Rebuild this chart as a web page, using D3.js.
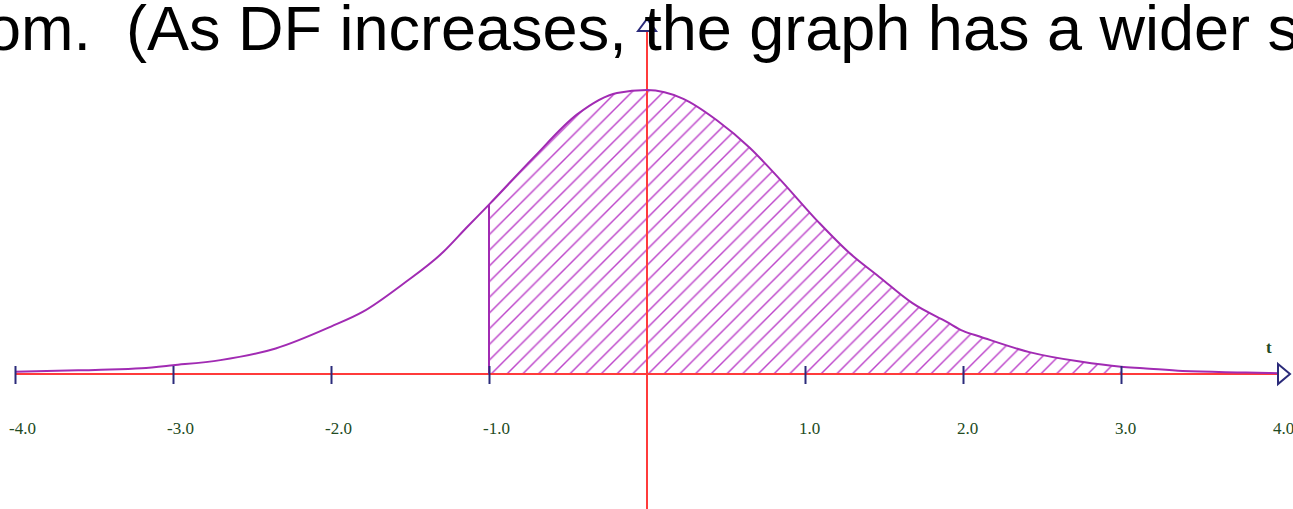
<!DOCTYPE html>
<html>
<head>
<meta charset="utf-8">
<script src="https://cdn.jsdelivr.net/npm/d3@7"></script>
<style>
  html, body { margin: 0; padding: 0; background: #fff; }
  svg { display: block; }
</style>
</head>
<body>
<div id="chart"></div>
<script>
// Caption line cut off at the top of the slide
const captionText = 'om.  (As DF increases, the graph has a wider s';

// Density curve (t, density)
const curveT = [-4.0, -3.6, -3.4, -3.2, -3.0, -2.7, -2.35, -2.0, -1.8, -1.54, -1.29, -1.14, -1.0,
    -0.72, -0.44, -0.19, 0.0, 0.23, 0.44, 0.65, 0.84, 1.09, 1.28, 1.47, 1.68, 1.9, 2.0, 2.11,
    2.42, 2.74, 3.0, 3.14, 3.39, 3.79, 4.0];
const curveDensity = [0.003, 0.005, 0.006, 0.008, 0.012, 0.019, 0.035, 0.065, 0.085, 0.124, 0.167, 0.201, 0.232,
    0.296, 0.356, 0.385, 0.389, 0.377, 0.348, 0.310, 0.267, 0.207, 0.166, 0.133, 0.097, 0.071, 0.059, 0.051,
    0.030, 0.017, 0.010, 0.008, 0.004, 0.002, 0.001];

// Shaded interval
const shadeFrom = -1.0;
const shadeTo = 3.0;

// Axis ticks
const tickMarks = [-4, -3, -2, -1, 1, 2, 3];
const tickLabels = [-4, -3, -2, -1, 1, 2, 3, 4];

const width = 1293;
const height = 509;
const CURVE_COLOR = '#a12bb3';
const HATCH_COLOR = '#bd45ca';
const AXIS_COLOR = '#ff3b3b';
const TICK_COLOR = '#2b2b7a';
const LABEL_COLOR = '#224a22';

const svg = d3.select('#chart')
    .append('svg')
    .attr('width', width)
    .attr('height', height);

const xScale = d3.scaleLinear()
    .domain([-4, 4])
    .range([15, 1279]);

const yScale = d3.scaleLinear()
    .domain([0, 0.5])
    .range([374, 9]);

const points = curveT.map((t, i) => [t, curveDensity[i]]);

// Hatch pattern
const defs = svg.append('defs');
const pattern = defs.append('pattern')
    .attr('id', 'hatch')
    .attr('patternUnits', 'userSpaceOnUse')
    .attr('x', 1.7)
    .attr('width', 15.7)
    .attr('height', 15.7);
pattern.append('path')
    .attr('d', 'M-1,1 l2,-2 M0,15.7 l15.7,-15.7 M14.7,16.7 l2,-2')
    .style('stroke', HATCH_COLOR)
    .style('stroke-width', 1.4)
    .style('fill', 'none');

// Shaded area
const area = d3.area()
    .x(d => xScale(d[0]))
    .y0(yScale(0))
    .y1(d => yScale(d[1]))
    .curve(d3.curveMonotoneX);

svg.append('path')
    .datum(points.filter(d => d[0] >= shadeFrom && d[0] <= shadeTo))
    .attr('d', area)
    .style('fill', 'url(#hatch)');

// Horizontal axis line
svg.append('line')
    .attr('x1', xScale(-4))
    .attr('x2', xScale(4))
    .attr('y1', yScale(0))
    .attr('y2', yScale(0))
    .style('stroke', AXIS_COLOR)
    .style('stroke-width', 2);

// Vertical axis line
svg.append('line')
    .attr('x1', xScale(0))
    .attr('x2', xScale(0))
    .attr('y1', 31)
    .attr('y2', height)
    .style('stroke', AXIS_COLOR)
    .style('stroke-width', 2);

// Curve
const line = d3.line()
    .x(d => xScale(d[0]))
    .y(d => yScale(d[1]))
    .curve(d3.curveMonotoneX);

svg.append('path')
    .datum(points)
    .attr('d', line)
    .style('fill', 'none')
    .style('stroke', CURVE_COLOR)
    .style('stroke-width', 2);

// Left edge of the shaded interval
const leftIdx = curveT.indexOf(shadeFrom);
svg.append('line')
    .attr('x1', xScale(shadeFrom))
    .attr('x2', xScale(shadeFrom))
    .attr('y1', yScale(0))
    .attr('y2', yScale(curveDensity[leftIdx]))
    .style('stroke', CURVE_COLOR)
    .style('stroke-width', 2);

// Tick marks
const axisG = svg.append('g')
    .attr('transform', `translate(0,${yScale(0)})`);

axisG.call(d3.axisBottom(xScale)
        .tickValues(tickMarks)
        .tickSize(0)
        .tickFormat(''))
    .call(g => g.select('.domain').remove());

axisG.selectAll('.tick line')
    .attr('y1', -8)
    .attr('y2', 10)
    .style('stroke', TICK_COLOR)
    .style('stroke-width', 2);

// Tick labels
svg.append('g')
    .selectAll('text')
    .data(tickLabels)
    .join('text')
    .attr('x', d => xScale(d) - 6)
    .attr('y', 434)
    .attr('text-anchor', 'start')
    .style('font-family', '"Liberation Serif", serif')
    .style('font-size', '17px')
    .style('fill', LABEL_COLOR)
    .text(d => d.toFixed(1));

// Arrowheads
svg.append('path')
    .attr('d', `M${xScale(4) - 1},${yScale(0) - 10} L${xScale(4) + 11},${yScale(0)} L${xScale(4) - 1},${yScale(0) + 10} Z`)
    .style('fill', '#fff')
    .style('stroke', TICK_COLOR)
    .style('stroke-width', 2);

svg.append('path')
    .attr('d', `M${xScale(0) - 9},31 L${xScale(0)},19 L${xScale(0) + 9},31 Z`)
    .style('fill', '#fff')
    .style('stroke', TICK_COLOR)
    .style('stroke-width', 2);

// Axis name
svg.append('text')
    .attr('x', 1266)
    .attr('y', 353)
    .style('font-family', '"Liberation Serif", serif')
    .style('font-size', '17px')
    .style('font-weight', 'bold')
    .style('fill', LABEL_COLOR)
    .text('t');

// Caption
svg.append('text')
    .attr('x', -14)
    .attr('y', 50)
    .style('font-family', '"Liberation Sans", Arial, sans-serif')
    .style('font-size', '63px')
    .style('fill', '#000')
    .style('white-space', 'pre')
    .text(captionText);
</script>
</body>
</html>
